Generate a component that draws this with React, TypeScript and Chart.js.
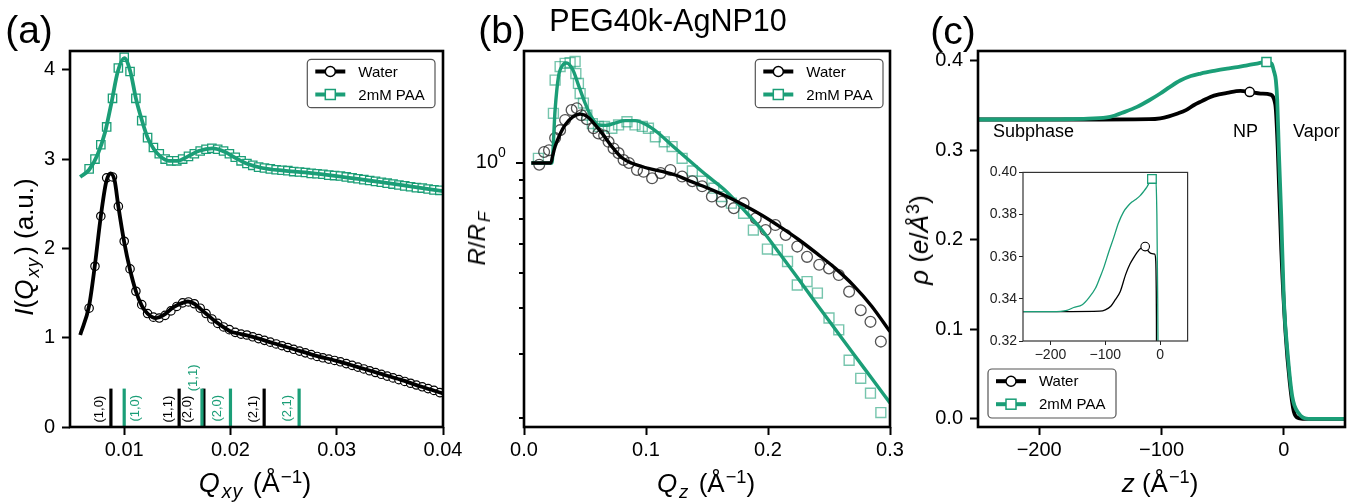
import React, { useEffect, useRef } from "react";
import { Chart, registerables } from "chart.js";

Chart.register(...registerables);

const FONT = "'Liberation Sans', Arial, Helvetica, sans-serif";
const GREEN = "#1b9e77";
const BLACK = "#000000";

// ---------------- Panel (a): GIXD ----------------
const qxyMarkers = [
  0.0067, 0.00725, 0.0078, 0.00835, 0.0089, 0.00945, 0.01, 0.01055, 0.0111, 0.01165,
  0.0122, 0.01275, 0.0133, 0.01385, 0.0144, 0.01495, 0.0155, 0.01605, 0.0166, 0.01715,
  0.0177, 0.01825, 0.0188, 0.01935, 0.0199, 0.02045, 0.021, 0.02155, 0.0221, 0.02265,
  0.0232, 0.02375, 0.0243, 0.02485, 0.0254, 0.02595, 0.0265, 0.02705, 0.0276, 0.02815,
  0.0287, 0.02925, 0.0298, 0.03035, 0.0309, 0.03145, 0.032, 0.03255, 0.0331, 0.03365,
  0.0342, 0.03475, 0.0353, 0.03585, 0.0364, 0.03695, 0.0375, 0.03805, 0.0386, 0.03915,
  0.0397,
];
const waterIntensity = [
  1.33, 1.8, 2.36, 2.79, 2.8, 2.47, 2.08, 1.77, 1.52, 1.37,
  1.27, 1.23, 1.22, 1.25, 1.3, 1.35, 1.39, 1.4, 1.38, 1.33,
  1.27, 1.21, 1.16, 1.12, 1.09, 1.06, 1.04, 1.03, 1.01, 0.99,
  0.97, 0.95, 0.93, 0.91, 0.89, 0.87, 0.85, 0.83, 0.81, 0.79,
  0.775, 0.76, 0.745, 0.73, 0.71, 0.69, 0.67, 0.65, 0.63, 0.61,
  0.59, 0.57, 0.55, 0.53, 0.51, 0.49, 0.47, 0.45, 0.43, 0.41,
  0.385,
];
const paaIntensity = [
  2.89, 3.0, 3.16, 3.36, 3.68, 4.02, 4.14, 3.98, 3.68, 3.43,
  3.24, 3.13, 3.06, 3.0, 2.98, 2.98, 3.0, 3.03, 3.06, 3.09,
  3.11, 3.12, 3.11, 3.09, 3.06, 3.02, 2.98, 2.95, 2.93, 2.91,
  2.9, 2.89, 2.88, 2.875, 2.87, 2.86, 2.855, 2.85, 2.84, 2.835,
  2.83, 2.82, 2.815, 2.81, 2.8, 2.79, 2.78, 2.77, 2.76, 2.75,
  2.74, 2.73, 2.72, 2.71, 2.7, 2.69, 2.68, 2.675, 2.665, 2.655,
  2.65,
];
const waterFitQxy = [
  0.00586, 0.0067, 0.00725, 0.0078, 0.0083, 0.0087, 0.0091, 0.00945, 0.01, 0.01055,
  0.0111, 0.01165, 0.0122, 0.013, 0.0138, 0.0146, 0.0155, 0.016, 0.0166, 0.0172,
  0.0178, 0.0185, 0.0192, 0.02, 0.021, 0.0221, 0.024, 0.026, 0.028, 0.03,
  0.032, 0.034, 0.036, 0.038, 0.04,
];
const waterFitI = [
  1.03, 1.36, 1.82, 2.36, 2.74, 2.84, 2.76, 2.47, 2.07, 1.76,
  1.52, 1.36, 1.27, 1.22, 1.26, 1.34, 1.39, 1.405, 1.38, 1.32,
  1.26, 1.19, 1.13, 1.07, 1.04, 1.01, 0.94, 0.87, 0.8, 0.74,
  0.67, 0.6, 0.53, 0.45, 0.375,
];
const paaFitQxy = [
  0.00586, 0.0067, 0.0075, 0.0082, 0.0088, 0.0094, 0.01, 0.0106, 0.0111, 0.0117,
  0.0122, 0.0128, 0.0134, 0.0142, 0.015, 0.016, 0.017, 0.0183, 0.0195, 0.0205,
  0.0215, 0.023, 0.025, 0.027, 0.03, 0.033, 0.036, 0.04,
];
const paaFitI = [
  2.8, 2.88, 3.05, 3.3, 3.63, 3.98, 4.13, 3.97, 3.68, 3.42,
  3.24, 3.11, 3.03, 2.98, 2.98, 3.03, 3.09, 3.12, 3.08, 3.01,
  2.95, 2.9, 2.87, 2.85, 2.81, 2.76, 2.71, 2.64,
];
const braggLabels = ["(1,0)", "(1,1)", "(2,0)", "(2,1)"];
const waterBraggQ = [0.00875, 0.01517, 0.0175, 0.02317];
const paaBraggQ = [0.01, 0.01732, 0.02, 0.02646];
const braggBarTop = 0.43;
const xTicksA = [0.01, 0.02, 0.03, 0.04];
const yTicksA = [0, 1, 2, 3, 4];
// label placement (pixel offset from bar, height in data units)
const waterBraggLabelDx = [-11, -11, -16, -11];
const paaBraggLabelDx = [11, -9, -13, -12];
const waterBraggLabelY = [0.2, 0.2, 0.2, 0.2];
const paaBraggLabelY = [0.21, 0.55, 0.21, 0.21];

// ---------------- Panel (b): XR ----------------
const waterFitQz = [
  0.006, 0.022, 0.0235, 0.0255, 0.03, 0.0337, 0.04, 0.046, 0.052, 0.058,
  0.065, 0.072, 0.08, 0.0885, 0.095, 0.102, 0.113, 0.124, 0.135, 0.15,
  0.165, 0.18, 0.195, 0.21, 0.225, 0.24, 0.255, 0.27, 0.285, 0.3,
];
const waterFitR = [
  1.0, 1.0, 1.047, 1.109, 1.208, 1.271, 1.337, 1.361, 1.34, 1.276,
  1.194, 1.109, 1.035, 0.998, 0.982, 0.966, 0.948, 0.927, 0.895, 0.855,
  0.813, 0.767, 0.719, 0.668, 0.617, 0.565, 0.515, 0.462, 0.405, 0.345,
];
const paaFitQz = [
  0.006, 0.0228, 0.0255, 0.0282, 0.0315, 0.035, 0.04, 0.045, 0.05, 0.055,
  0.061, 0.068, 0.075, 0.083, 0.091, 0.1, 0.11, 0.12, 0.135, 0.15,
  0.165, 0.18, 0.195, 0.21, 0.225, 0.24, 0.255, 0.27, 0.285, 0.3,
];
const paaFitR = [
  1.0, 1.0, 1.4, 1.72, 1.85, 1.88, 1.8, 1.622, 1.462, 1.343,
  1.271, 1.268, 1.288, 1.306, 1.306, 1.274, 1.208, 1.127, 1.019, 0.923,
  0.841, 0.745, 0.655, 0.562, 0.481, 0.41, 0.351, 0.3, 0.257, 0.22,
];
const waterQz = [
  0.0125, 0.0165, 0.0205, 0.0255, 0.0296, 0.0337, 0.039, 0.0433, 0.047, 0.0515,
  0.057, 0.061, 0.0657, 0.0693, 0.0734, 0.0775, 0.0816, 0.086, 0.0926, 0.098,
  0.105, 0.112, 0.12, 0.1296, 0.138, 0.146, 0.154, 0.162, 0.172, 0.18,
  0.19, 0.198, 0.206, 0.2145, 0.224, 0.232, 0.242, 0.25, 0.258, 0.2665,
  0.276, 0.284, 0.2925,
];
const waterR = [
  0.989, 1.072, 1.084, 1.17, 1.23, 1.312, 1.396, 1.413, 1.352, 1.318,
  1.245, 1.205, 1.189, 1.143, 1.096, 1.064, 1.019, 1.0, 0.957, 0.946,
  0.908, 0.938, 0.957, 0.918, 0.891, 0.863, 0.809, 0.783, 0.752, 0.776,
  0.705, 0.655, 0.676, 0.635, 0.59, 0.553, 0.526, 0.514, 0.493, 0.444,
  0.395, 0.367, 0.324,
];
const paaQz = [
  0.0118, 0.0241, 0.0255, 0.0296, 0.0337, 0.0378, 0.0419, 0.0425, 0.0446, 0.046,
  0.0487, 0.0515, 0.056, 0.061, 0.066, 0.072, 0.0775, 0.0844, 0.091, 0.097,
  0.102, 0.1077, 0.115, 0.1214, 0.1296, 0.138, 0.146, 0.1556, 0.162, 0.17,
  0.18, 0.188, 0.1995, 0.2077, 0.216, 0.224, 0.232, 0.2405, 0.25, 0.258,
  0.2665, 0.276, 0.284, 0.2925,
];
const paaR = [
  1.03, 1.368, 1.687, 1.837, 1.875, 1.884, 1.897, 1.758, 1.652, 1.549,
  1.459, 1.352, 1.282, 1.259, 1.259, 1.245, 1.271, 1.297, 1.271, 1.259,
  1.245, 1.18, 1.143, 1.109, 1.03, 0.951, 0.891, 0.853, 0.809, 0.776,
  0.728, 0.655, 0.581, 0.578, 0.537, 0.463, 0.473, 0.44, 0.376, 0.349,
  0.288, 0.257, 0.234, 0.207,
];
const xTicksB = [0, 0.1, 0.2, 0.3];
const yMinorTicksB = [0.2, 0.3, 0.4, 0.5, 0.6, 0.7, 0.8, 0.9];
const yMajorTicksB = [1];

// ---------------- Panel (c): electron density ----------------
const paaZ = [
  -250, -200, -183, -160, -142, -130, -120, -110, -101, -93,
  -84.7, -76, -68, -57, -46.4, -38, -30, -22, -14.2, -10,
  -8.2, -6.5, -5.4, -4.1, -2.1, 0, 3.3, 6.9, 12.3, 20, 50,
];
const paaRho = [
  0.3345, 0.3345, 0.3347, 0.3355, 0.3374, 0.343, 0.3486, 0.356, 0.3635, 0.371,
  0.378, 0.383, 0.3858, 0.3888, 0.3913, 0.393, 0.395, 0.397, 0.3988, 0.397,
  0.389, 0.378, 0.356, 0.3, 0.226, 0.133, 0.07, 0.025, 0.006, 0.0, 0.0,
];
const waterZ = [
  -250, -150, -110, -101, -94, -87.4, -80, -73.7, -67, -60,
  -53, -46.4, -35.5, -27.9, -19, -10.9, -8, -6.5, -4.9, -2.1,
  1.4, 4.9, 8.2, 12, 20, 50,
];
const waterRho = [
  0.3345, 0.3345, 0.3348, 0.3358, 0.338, 0.341, 0.345, 0.3504, 0.355, 0.3597,
  0.3625, 0.3642, 0.3664, 0.3653, 0.3635, 0.3623, 0.357, 0.345, 0.3, 0.189,
  0.096, 0.04, 0.008, 0.001, 0, 0,
];
const waterMarkZ = [-27.9];
const waterMarkRho = [0.3653];
const paaMarkZ = [-14.2];
const paaMarkRho = [0.3988];
const xTicksC = [-200, -100, 0];
const yTicksC = [0, 0.1, 0.2, 0.3, 0.4];
const regionLabels = ["Subphase", "NP", "Vapor"];
const regionLabelZ = [-237.7, -41.5, 7.5];
const regionLabelRho = [0.3205, 0.3205, 0.3205];

// inset
const insetPaaZ = [
  -250, -197, -170, -157.6, -142, -130, -118, -110, -103, -94,
  -85, -76, -66.7, -58, -51.6, -44, -36.4, -30, -24.3, -15,
  -9, -6, -4.5, -3.5,
];
const insetPaaRho = [
  0.3339, 0.3339, 0.3345, 0.3359, 0.3372, 0.3405, 0.345, 0.35, 0.3547, 0.362,
  0.3688, 0.376, 0.3813, 0.3843, 0.3859, 0.3873, 0.389, 0.391, 0.393, 0.3969,
  0.3969, 0.38, 0.34, 0.3,
];
const insetWaterZ = [
  -250, -110, -100, -90, -82, -72.7, -63, -55, -48.5, -42,
  -36.4, -27.3, -21.2, -15, -10, -8, -7.2, -6.8, -6.5,
];
const insetWaterRho = [
  0.3339, 0.3342, 0.3348, 0.3365, 0.3395, 0.3435, 0.3515, 0.3565, 0.3594, 0.362,
  0.3638, 0.3648, 0.3625, 0.3615, 0.3612, 0.3578, 0.345, 0.33, 0.3,
];
const insetWaterMarkZ = [-27.3];
const insetWaterMarkRho = [0.3648];
const insetPaaMarkZ = [-15];
const insetPaaMarkRho = [0.3969];
const xTicksInset = [-200, -100, 0];
const yTicksInset = [0.32, 0.34, 0.36, 0.38, 0.4];

const legendEntries = [
  { label: "Water", color: BLACK, marker: "circle" },
  { label: "2mM PAA", color: GREEN, marker: "rect" },
];

// ---------------- helpers ----------------
const pts = (xs: number[], ys: number[]) => xs.map((x, i) => ({ x, y: ys[i] }));
const minusFmt = (v: number) => (v < 0 ? "\u2212" + Math.abs(v) : String(v));

function fitLine(label: string, xs: number[], ys: number[], color: string, width: number, order: number) {
  return {
    label,
    data: pts(xs, ys),
    borderColor: color,
    borderWidth: width,
    pointRadius: 0,
    cubicInterpolationMode: "monotone",
    fill: false,
    order,
  };
}
function markerSet(label: string, xs: number[], ys: number[], style: string, radius: number, edge: string, face: string, bw: number, order: number) {
  return {
    label,
    data: pts(xs, ys),
    showLine: false,
    pointStyle: style,
    pointRadius: radius,
    pointBorderColor: edge,
    pointBackgroundColor: face,
    pointBorderWidth: bw,
    order,
  };
}
function axis(o: {
  min: number; max: number; ticks: number[]; fmt: (v: number) => string; size: number;
  horizontal: boolean; fontSize: number; tickLength: number; padding: number;
  color?: string; tickWidth?: number; type?: string; hidden?: boolean;
}) {
  return {
    type: o.type ?? "linear",
    min: o.min,
    max: o.max,
    position: o.horizontal ? "bottom" : "left",
    border: { display: false },
    grid: {
      display: !o.hidden,
      drawOnChartArea: false,
      drawTicks: true,
      tickLength: o.tickLength,
      tickWidth: o.tickWidth ?? 2,
      tickColor: o.color ?? "#000",
      color: "rgba(0,0,0,0)",
    },
    ticks: {
      display: !o.hidden,
      font: { family: FONT, size: o.fontSize },
      color: o.color ?? "#000",
      padding: o.padding,
      maxRotation: 0,
      minRotation: 0,
      autoSkip: false,
      callback: (v: any) => o.fmt(Number(v)),
    },
    afterBuildTicks: (s: any) => {
      s.ticks = o.ticks.map((v) => ({ value: v }));
    },
    afterFit: (s: any) => {
      if (o.horizontal) s.height = o.size;
      else s.width = o.size;
    },
  };
}
function baseOptions(padding: any, scales: any) {
  return {
    responsive: false,
    animation: false,
    devicePixelRatio: 1,
    events: [],
    layout: { padding },
    plugins: { legend: { display: false }, tooltip: { enabled: false }, title: { display: false } },
    scales,
  };
}
function drawFrame(chart: any, lw: number, color: string) {
  const { ctx, chartArea } = chart;
  ctx.save();
  ctx.strokeStyle = color;
  ctx.lineWidth = lw;
  ctx.strokeRect(chartArea.left, chartArea.top, chartArea.right - chartArea.left, chartArea.bottom - chartArea.top);
  ctx.restore();
}
function drawLegend(ctx: CanvasRenderingContext2D, x: number, y: number, w: number, h: number) {
  ctx.save();
  const r = 4;
  ctx.beginPath();
  ctx.moveTo(x + r, y);
  ctx.lineTo(x + w - r, y);
  ctx.arcTo(x + w, y, x + w, y + r, r);
  ctx.lineTo(x + w, y + h - r);
  ctx.arcTo(x + w, y + h, x + w - r, y + h, r);
  ctx.lineTo(x + r, y + h);
  ctx.arcTo(x, y + h, x, y + h - r, r);
  ctx.lineTo(x, y + r);
  ctx.arcTo(x, y, x + r, y, r);
  ctx.closePath();
  ctx.fillStyle = "rgba(255,255,255,0.85)";
  ctx.fill();
  ctx.strokeStyle = "#555";
  ctx.lineWidth = 1.2;
  ctx.stroke();
  legendEntries.forEach((e, i) => {
    const cy = y + 12.2 + i * 23;
    ctx.strokeStyle = e.color;
    ctx.lineWidth = 4;
    ctx.beginPath();
    ctx.moveTo(x + 8, cy);
    ctx.lineTo(x + 38, cy);
    ctx.stroke();
    ctx.fillStyle = "#fff";
    ctx.lineWidth = 1.5;
    if (e.marker === "circle") {
      ctx.beginPath();
      ctx.arc(x + 23, cy, 5, 0, Math.PI * 2);
      ctx.fill();
      ctx.stroke();
    } else {
      ctx.fillRect(x + 18, cy - 5, 10, 10);
      ctx.strokeRect(x + 18, cy - 5, 10, 10);
    }
    ctx.fillStyle = "#000";
    ctx.font = `15px ${FONT}`;
    ctx.textAlign = "left";
    ctx.textBaseline = "middle";
    ctx.fillText(e.label, x + 51, cy + 1);
  });
  ctx.restore();
}

// ---------------- plugins ----------------
const panelAPlugin = {
  id: "panelA",
  beforeDatasetsDraw(chart: any) {
    const { ctx, scales } = chart;
    const xs = scales.x;
    const ys = scales.y;
    const y0 = ys.getPixelForValue(0);
    const y1 = ys.getPixelForValue(braggBarTop);
    const groups = [
      { q: waterBraggQ, color: BLACK, dx: waterBraggLabelDx, ly: waterBraggLabelY },
      { q: paaBraggQ, color: GREEN, dx: paaBraggLabelDx, ly: paaBraggLabelY },
    ];
    ctx.save();
    groups.forEach((g) => {
      g.q.forEach((q, i) => {
        const px = xs.getPixelForValue(q);
        ctx.fillStyle = g.color;
        ctx.fillRect(px - 1.6, y1, 3.2, y0 - y1);
        ctx.save();
        ctx.translate(px + g.dx[i], ys.getPixelForValue(g.ly[i]));
        ctx.rotate(-Math.PI / 2);
        ctx.font = `13px ${FONT}`;
        ctx.textAlign = "center";
        ctx.textBaseline = "middle";
        ctx.fillText(braggLabels[i], 0, 0);
        ctx.restore();
      });
    });
    ctx.restore();
  },
  afterDraw(chart: any) {
    drawFrame(chart, 2.6, "#000");
    const a = chart.chartArea;
    drawLegend(chart.ctx, a.right - 8 - 127.7, a.top + 8.3, 127.7, 48.4);
  },
};

const panelBPlugin = {
  id: "panelB",
  afterDraw(chart: any) {
    const { ctx, chartArea } = chart;
    const ys = chart.scales.y;
    ctx.save();
    ctx.strokeStyle = "#000";
    ctx.lineWidth = 2;
    yMinorTicksB.forEach((v) => {
      const py = Math.round(ys.getPixelForValue(v));
      ctx.beginPath();
      ctx.moveTo(chartArea.left - 5, py);
      ctx.lineTo(chartArea.left, py);
      ctx.stroke();
    });
    yMajorTicksB.forEach((v) => {
      const py = Math.round(ys.getPixelForValue(v));
      ctx.beginPath();
      ctx.moveTo(chartArea.left - 8, py);
      ctx.lineTo(chartArea.left, py);
      ctx.stroke();
      ctx.fillStyle = "#000";
      ctx.textBaseline = "middle";
      ctx.textAlign = "right";
      ctx.font = `20px ${FONT}`;
      ctx.fillText("10", chartArea.left - 26, py - 1);
      ctx.textAlign = "left";
      ctx.font = `14px ${FONT}`;
      ctx.fillText("0", chartArea.left - 26, py - 10);
    });
    ctx.restore();
    drawFrame(chart, 2.6, "#000");
    drawLegend(ctx, chartArea.right - 7 - 127.7, chartArea.top + 8.3, 127.7, 48.4);
  },
};

const panelCPlugin = {
  id: "panelC",
  afterDraw(chart: any) {
    const { ctx, chartArea, scales } = chart;
    ctx.save();
    ctx.fillStyle = "#000";
    ctx.font = `18px ${FONT}`;
    ctx.textAlign = "left";
    ctx.textBaseline = "middle";
    regionLabels.forEach((t, i) => {
      ctx.fillText(t, scales.x.getPixelForValue(regionLabelZ[i]), scales.y.getPixelForValue(regionLabelRho[i]));
    });
    ctx.restore();
    drawFrame(chart, 2.6, "#000");
    drawLegend(ctx, chartArea.left + 10, chartArea.bottom - 9 - 49, 128, 49);
  },
};

const insetPlugin = {
  id: "inset",
  beforeDatasetsDraw(chart: any) {
    const { ctx, chartArea } = chart;
    ctx.save();
    ctx.fillStyle = "#fff";
    ctx.fillRect(chartArea.left, chartArea.top, chartArea.right - chartArea.left, chartArea.bottom - chartArea.top);
    ctx.restore();
  },
  afterDraw(chart: any) {
    drawFrame(chart, 1.2, "#333");
  },
};

// ---------------- configs ----------------
function configA(): any {
  return {
    type: "line",
    data: {
      datasets: [
        fitLine("Water fit", waterFitQxy, waterFitI, BLACK, 3.8, 0),
        fitLine("2mM PAA fit", paaFitQxy, paaFitI, GREEN, 3.8, 0),
        markerSet("Water", qxyMarkers, waterIntensity, "circle", 4.2, BLACK, "#fff", 1.2, 1),
        markerSet("2mM PAA", qxyMarkers, paaIntensity, "rect", 5.9, GREEN, "#fff", 1.3, 1),
      ],
    },
    options: baseOptions({ left: 0, top: 51, right: 37, bottom: 0 }, {
      x: axis({ min: 0.0049, max: 0.04, ticks: xTicksA, fmt: (v) => v.toFixed(2), size: 77, horizontal: true, fontSize: 20, tickLength: 8, padding: 3 }),
      y: axis({ min: 0, max: 4.21, ticks: yTicksA, fmt: (v) => String(v), size: 70, horizontal: false, fontSize: 20, tickLength: 8, padding: 7 }),
    }),
    plugins: [panelAPlugin],
  };
}
function configB(): any {
  return {
    type: "line",
    data: {
      datasets: [
        fitLine("Water fit", waterFitQz, waterFitR, BLACK, 3.4, 0),
        fitLine("2mM PAA fit", paaFitQz, paaFitR, GREEN, 3.4, 0),
        markerSet("Water", waterQz, waterR, "circle", 5.4, "rgba(40,40,40,0.8)", "rgba(0,0,0,0)", 1.3, 1),
        markerSet("2mM PAA", paaQz, paaR, "rect", 7, "rgba(27,158,119,0.6)", "rgba(0,0,0,0)", 1.4, 1),
      ],
    },
    options: baseOptions({ left: 0, top: 51, right: 30, bottom: 0 }, {
      x: axis({ min: 0, max: 0.3, ticks: xTicksB, fmt: (v) => v.toFixed(1), size: 77, horizontal: true, fontSize: 20, tickLength: 8, padding: 3 }),
      y: axis({ type: "logarithmic", min: 0.189, max: 2.027, ticks: [...yMinorTicksB, ...yMajorTicksB], fmt: () => "", size: 84, horizontal: false, fontSize: 20, tickLength: 8, padding: 7, hidden: true }),
    }),
    plugins: [panelBPlugin],
  };
}
function configC(): any {
  return {
    type: "line",
    data: {
      datasets: [
        markerSet("Water", waterMarkZ, waterMarkRho, "circle", 4.6, BLACK, "#fff", 1.5, -2),
        markerSet("2mM PAA", paaMarkZ, paaMarkRho, "rect", 6.4, GREEN, "#fff", 1.5, -2),
        fitLine("2mM PAA profile", paaZ, paaRho, GREEN, 3.8, 0),
        fitLine("Water profile", waterZ, waterRho, BLACK, 3.8, 1),
      ],
    },
    options: baseOptions({ left: 0, top: 51, right: 19, bottom: 0 }, {
      x: axis({ min: -250, max: 50, ticks: xTicksC, fmt: minusFmt, size: 77, horizontal: true, fontSize: 20, tickLength: 8, padding: 3 }),
      y: axis({ min: -0.009, max: 0.411, ticks: yTicksC, fmt: (v) => v.toFixed(1), size: 78, horizontal: false, fontSize: 20, tickLength: 8, padding: 7 }),
    }),
    plugins: [panelCPlugin],
  };
}
function configInset(): any {
  return {
    type: "line",
    data: {
      datasets: [
        markerSet("Water", insetWaterMarkZ, insetWaterMarkRho, "circle", 4.3, BLACK, "#fff", 1.1, -2),
        markerSet("2mM PAA", insetPaaMarkZ, insetPaaMarkRho, "rect", 6.1, GREEN, "#fff", 1.3, -2),
        fitLine("2mM PAA profile", insetPaaZ, insetPaaRho, GREEN, 1.3, 0),
        fitLine("Water profile", insetWaterZ, insetWaterRho, BLACK, 1.3, 1),
      ],
    },
    options: baseOptions({ left: 0, top: 8, right: 5, bottom: 0 }, {
      x: axis({ min: -250, max: 50, ticks: xTicksInset, fmt: minusFmt, size: 26, horizontal: true, fontSize: 14, tickLength: 4, padding: 2, tickWidth: 1, color: "#222" }),
      y: axis({ min: 0.32, max: 0.4, ticks: yTicksInset, fmt: (v) => v.toFixed(2), size: 48, horizontal: false, fontSize: 14, tickLength: 4, padding: 2, tickWidth: 1, color: "#222" }),
    }),
    plugins: [insetPlugin],
  };
}

// ---------------- text helpers ----------------
const Sub = ({ children }: any) => (
  <span style={{ fontSize: "0.72em", position: "relative", top: "0.3em", lineHeight: 0, margin: "0 2px 0 2px", letterSpacing: "1px" }}>{children}</span>
);
const Sup = ({ children }: any) => (
  <span style={{ fontSize: "0.7em", position: "relative", top: "-0.5em", lineHeight: 0, marginLeft: "1px" }}>{children}</span>
);
const Txt = ({ x, y, size, rot, children }: any) => (
  <div
    style={{
      position: "absolute",
      left: x,
      top: y,
      transform: `translate(-50%, -50%)${rot ? " rotate(-90deg)" : ""}`,
      font: `${size}px ${FONT}`,
      whiteSpace: "nowrap",
      lineHeight: 1,
      color: "#000",
    }}
  >
    {children}
  </div>
);

export default function App() {
  const aRef = useRef<HTMLCanvasElement>(null);
  const bRef = useRef<HTMLCanvasElement>(null);
  const cRef = useRef<HTMLCanvasElement>(null);
  const iRef = useRef<HTMLCanvasElement>(null);

  useEffect(() => {
    const charts: Chart[] = [];
    charts.push(new Chart(aRef.current as HTMLCanvasElement, configA()));
    charts.push(new Chart(bRef.current as HTMLCanvasElement, configB()));
    charts.push(new Chart(cRef.current as HTMLCanvasElement, configC()));
    charts.push(new Chart(iRef.current as HTMLCanvasElement, configInset()));
    return () => charts.forEach((c) => c.destroy());
  }, []);

  const cv = (left: number, top: number) => ({ position: "absolute" as const, left, top });

  return (
    <div style={{ position: "absolute", left: 0, top: 0, width: 1364, height: 504, background: "#fff", overflow: "hidden" }}>
      <canvas ref={aRef} width={480} height={504} style={cv(0, 0)} />
      <canvas ref={bRef} width={480} height={504} style={cv(440, 0)} />
      <canvas ref={cRef} width={464} height={504} style={cv(900, 0)} />
      <canvas ref={iRef} width={220} height={205} style={cv(975, 162)} />

      <Txt x={29} y={29} size={39}>(a)</Txt>
      <Txt x={502} y={29} size={39}>(b)</Txt>
      <Txt x={953} y={30} size={39}>(c)</Txt>
      <Txt x={668} y={20} size={30.5}>PEG40k-AgNP10</Txt>

      <Txt x={255} y={483} size={27}>
        <i>Q</i><Sub><i>xy</i></Sub> (Å<Sup>−1</Sup>)
      </Txt>
      <Txt x={706} y={483} size={26}>
        <i>Q</i><Sub><i>z</i></Sub> (Å<Sup>−1</Sup>)
      </Txt>
      <Txt x={1160} y={483} size={26}>
        <i>z</i> (Å<Sup>−1</Sup>)
      </Txt>
      <Txt x={24} y={247} size={26} rot>
        <i>I</i>(<i>Q</i><Sub><i>xy</i></Sub>) (a.u.)
      </Txt>
      <Txt x={477} y={237} size={24} rot>
        <i>R</i>/<i>R</i><Sub><i>F</i></Sub>
      </Txt>
      <Txt x={919} y={240} size={26} rot>
        <i>ρ</i> (<i>e</i>/<i>Å</i><Sup>3</Sup>)
      </Txt>
    </div>
  );
}
